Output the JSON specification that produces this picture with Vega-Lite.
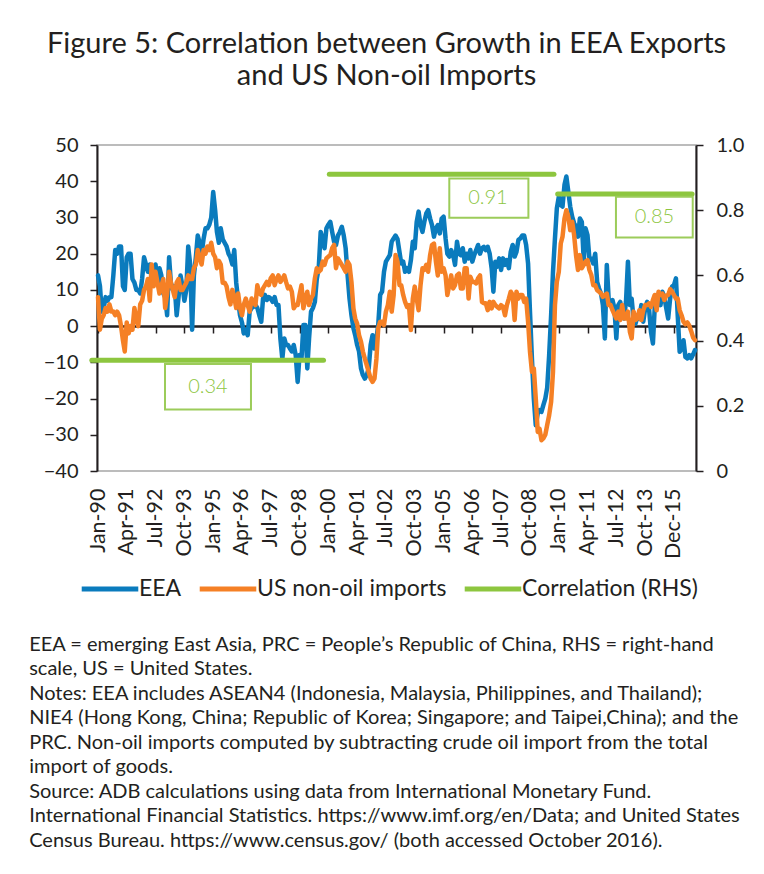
{
  "$schema": "https://vega.github.io/schema/vega-lite/v6.json",
  "background": "white",
  "padding": {"left": 28, "top": 30, "right": 5, "bottom": 5},
  "title": {
    "text": ["Figure 5: Correlation between Growth in EEA Exports", "and US Non-oil Imports"],
    "font": "Lato", "fontSize": 29, "fontWeight": "normal", "color": "#231f20",
    "anchor": "middle", "lineHeight": 32, "offset": 43
  },
  "vconcat": [
    {
      "width": 599,
      "height": 326,
      "title": {
        "text": [
          "EEA = emerging East Asia, PRC = People’s Republic of China, RHS = right-hand",
          "scale, US = United States.",
          "Notes: EEA includes ASEAN4 (Indonesia, Malaysia, Philippines, and Thailand);",
          "NIE4 (Hong Kong, China; Republic of Korea; Singapore; and Taipei,China); and the",
          "PRC. Non-oil imports computed by subtracting crude oil import from the total",
          "import of goods.",
          "Source: ADB calculations using data from International Monetary Fund.",
          "International Financial Statistics. https://www.imf.org/en/Data; and United States",
          "Census Bureau. https://www.census.gov/ (both accessed October 2016)."
        ],
        "orient": "bottom", "anchor": "start", "font": "Lato", "fontSize": 20,
        "fontWeight": "normal", "color": "#231f20", "lineHeight": 24.5, "offset": 76, "dx": -14
      },
      "layer": [
        {
          "data": {"values": [
{"d":"1990-01","EEA":14,"US non-oil imports":8},{"d":"1990-02","EEA":11,"US non-oil imports":-1},{"d":"1990-03","EEA":4,"US non-oil imports":2},{"d":"1990-04","EEA":5,"US non-oil imports":3},{"d":"1990-05","EEA":8,"US non-oil imports":5},{"d":"1990-06","EEA":7,"US non-oil imports":4},{"d":"1990-07","EEA":8,"US non-oil imports":6},{"d":"1990-08","EEA":8,"US non-oil imports":4},{"d":"1990-09","EEA":14,"US non-oil imports":4},{"d":"1990-10","EEA":21,"US non-oil imports":3},{"d":"1990-11","EEA":20,"US non-oil imports":4},{"d":"1990-12","EEA":22,"US non-oil imports":3},
{"d":"1991-01","EEA":22,"US non-oil imports":0},{"d":"1991-02","EEA":11,"US non-oil imports":-4},{"d":"1991-03","EEA":10,"US non-oil imports":-7},{"d":"1991-04","EEA":19,"US non-oil imports":1},{"d":"1991-05","EEA":20,"US non-oil imports":-2},{"d":"1991-06","EEA":20,"US non-oil imports":0},{"d":"1991-07","EEA":13,"US non-oil imports":-1},{"d":"1991-08","EEA":12,"US non-oil imports":5},{"d":"1991-09","EEA":10,"US non-oil imports":2},{"d":"1991-10","EEA":10,"US non-oil imports":0},{"d":"1991-11","EEA":9,"US non-oil imports":6},{"d":"1991-12","EEA":13,"US non-oil imports":7},
{"d":"1992-01","EEA":19,"US non-oil imports":10},{"d":"1992-02","EEA":17,"US non-oil imports":11},{"d":"1992-03","EEA":15,"US non-oil imports":13},{"d":"1992-04","EEA":17,"US non-oil imports":7},{"d":"1992-05","EEA":13,"US non-oil imports":17},{"d":"1992-06","EEA":15,"US non-oil imports":11},{"d":"1992-07","EEA":17,"US non-oil imports":15},{"d":"1992-08","EEA":12,"US non-oil imports":12},{"d":"1992-09","EEA":16,"US non-oil imports":9},{"d":"1992-10","EEA":14,"US non-oil imports":11},{"d":"1992-11","EEA":9,"US non-oil imports":13},{"d":"1992-12","EEA":8,"US non-oil imports":5},
{"d":"1993-01","EEA":3,"US non-oil imports":9},{"d":"1993-02","EEA":19,"US non-oil imports":15},{"d":"1993-03","EEA":12,"US non-oil imports":12},{"d":"1993-04","EEA":10,"US non-oil imports":10},{"d":"1993-05","EEA":11,"US non-oil imports":8},{"d":"1993-06","EEA":3,"US non-oil imports":12},{"d":"1993-07","EEA":8,"US non-oil imports":13},{"d":"1993-08","EEA":14,"US non-oil imports":10},{"d":"1993-09","EEA":11,"US non-oil imports":10},{"d":"1993-10","EEA":7,"US non-oil imports":11},{"d":"1993-11","EEA":10,"US non-oil imports":12},{"d":"1993-12","EEA":22,"US non-oil imports":14},
{"d":"1994-01","EEA":17,"US non-oil imports":13},{"d":"1994-02","EEA":-1,"US non-oil imports":13},{"d":"1994-03","EEA":14,"US non-oil imports":16},{"d":"1994-04","EEA":19,"US non-oil imports":17},{"d":"1994-05","EEA":25,"US non-oil imports":21},{"d":"1994-06","EEA":23,"US non-oil imports":19},{"d":"1994-07","EEA":20,"US non-oil imports":17},{"d":"1994-08","EEA":24,"US non-oil imports":21},{"d":"1994-09","EEA":27,"US non-oil imports":20},{"d":"1994-10","EEA":27,"US non-oil imports":22},{"d":"1994-11","EEA":28,"US non-oil imports":21},{"d":"1994-12","EEA":30,"US non-oil imports":23},
{"d":"1995-01","EEA":37,"US non-oil imports":20},{"d":"1995-02","EEA":32,"US non-oil imports":19},{"d":"1995-03","EEA":26,"US non-oil imports":16},{"d":"1995-04","EEA":23,"US non-oil imports":18},{"d":"1995-05","EEA":27,"US non-oil imports":17},{"d":"1995-06","EEA":24,"US non-oil imports":12},{"d":"1995-07","EEA":23,"US non-oil imports":12},{"d":"1995-08","EEA":22,"US non-oil imports":11},{"d":"1995-09","EEA":20,"US non-oil imports":8},{"d":"1995-10","EEA":19,"US non-oil imports":6},{"d":"1995-11","EEA":17,"US non-oil imports":10},{"d":"1995-12","EEA":21,"US non-oil imports":8},
{"d":"1996-01","EEA":12,"US non-oil imports":5},{"d":"1996-02","EEA":7,"US non-oil imports":9},{"d":"1996-03","EEA":3,"US non-oil imports":5},{"d":"1996-04","EEA":1,"US non-oil imports":3},{"d":"1996-05","EEA":-2,"US non-oil imports":6},{"d":"1996-06","EEA":-1,"US non-oil imports":7.6},{"d":"1996-07","EEA":-2.5,"US non-oil imports":5.8},{"d":"1996-08","EEA":4,"US non-oil imports":4},{"d":"1996-09","EEA":5,"US non-oil imports":7.6},{"d":"1996-10","EEA":5.3,"US non-oil imports":6.7},{"d":"1996-11","EEA":5.8,"US non-oil imports":5.8},{"d":"1996-12","EEA":5,"US non-oil imports":11.3},
{"d":"1997-01","EEA":3,"US non-oil imports":9},{"d":"1997-02","EEA":1.2,"US non-oil imports":8.6},{"d":"1997-03","EEA":7.6,"US non-oil imports":10.4},{"d":"1997-04","EEA":8.6,"US non-oil imports":11.3},{"d":"1997-05","EEA":7.2,"US non-oil imports":12.2},{"d":"1997-06","EEA":8,"US non-oil imports":11.3},{"d":"1997-07","EEA":7.6,"US non-oil imports":13.2},{"d":"1997-08","EEA":6.7,"US non-oil imports":14},{"d":"1997-09","EEA":8,"US non-oil imports":11.3},{"d":"1997-10","EEA":5.8,"US non-oil imports":13},{"d":"1997-11","EEA":5.8,"US non-oil imports":14},{"d":"1997-12","EEA":-3.4,"US non-oil imports":12.2},
{"d":"1998-01","EEA":-9,"US non-oil imports":13},{"d":"1998-02","EEA":-3.4,"US non-oil imports":14},{"d":"1998-03","EEA":-5.2,"US non-oil imports":12.2},{"d":"1998-04","EEA":-5.2,"US non-oil imports":10.4},{"d":"1998-05","EEA":-6.2,"US non-oil imports":10.9},{"d":"1998-06","EEA":-7,"US non-oil imports":9.5},{"d":"1998-07","EEA":-5.2,"US non-oil imports":4.9},{"d":"1998-08","EEA":-8,"US non-oil imports":5.8},{"d":"1998-09","EEA":-15.4,"US non-oil imports":5.8},{"d":"1998-10","EEA":-8,"US non-oil imports":8.6},{"d":"1998-11","EEA":-9,"US non-oil imports":11.3},{"d":"1998-12","EEA":0.3,"US non-oil imports":4.9},
{"d":"1999-01","EEA":0.3,"US non-oil imports":7.6},{"d":"1999-02","EEA":-11.7,"US non-oil imports":9.5},{"d":"1999-03","EEA":-3.4,"US non-oil imports":5.8},{"d":"1999-04","EEA":4,"US non-oil imports":7.6},{"d":"1999-05","EEA":5,"US non-oil imports":8.6},{"d":"1999-06","EEA":6.7,"US non-oil imports":13.2},{"d":"1999-07","EEA":13,"US non-oil imports":16},{"d":"1999-08","EEA":16,"US non-oil imports":15},{"d":"1999-09","EEA":26,"US non-oil imports":15.5},{"d":"1999-10","EEA":24,"US non-oil imports":17.8},{"d":"1999-11","EEA":21.5,"US non-oil imports":16.9},{"d":"1999-12","EEA":27,"US non-oil imports":18.7},
{"d":"2000-01","EEA":28,"US non-oil imports":19.2},{"d":"2000-02","EEA":28.8,"US non-oil imports":19.6},{"d":"2000-03","EEA":26,"US non-oil imports":21.5},{"d":"2000-04","EEA":23.3,"US non-oil imports":22.4},{"d":"2000-05","EEA":22.4,"US non-oil imports":16},{"d":"2000-06","EEA":25,"US non-oil imports":18.7},{"d":"2000-07","EEA":26,"US non-oil imports":17.8},{"d":"2000-08","EEA":27.4,"US non-oil imports":16.9},{"d":"2000-09","EEA":25,"US non-oil imports":16},{"d":"2000-10","EEA":21.5,"US non-oil imports":15},{"d":"2000-11","EEA":14,"US non-oil imports":17.8},{"d":"2000-12","EEA":7.6,"US non-oil imports":16.9},
{"d":"2001-01","EEA":3,"US non-oil imports":12.2},{"d":"2001-02","EEA":-0.6,"US non-oil imports":4.9},{"d":"2001-03","EEA":-2.5,"US non-oil imports":2.1},{"d":"2001-04","EEA":-5.2,"US non-oil imports":0.7},{"d":"2001-05","EEA":-7,"US non-oil imports":-2.5},{"d":"2001-06","EEA":-11.7,"US non-oil imports":-4.3},{"d":"2001-07","EEA":-13.5,"US non-oil imports":-7},{"d":"2001-08","EEA":-14.5,"US non-oil imports":-9},{"d":"2001-09","EEA":-13.5,"US non-oil imports":-10.8},{"d":"2001-10","EEA":-11.7,"US non-oil imports":-12.6},{"d":"2001-11","EEA":-5.2,"US non-oil imports":-14.5},{"d":"2001-12","EEA":-2.5,"US non-oil imports":-15.4},
{"d":"2002-01","EEA":-6.2,"US non-oil imports":-14.5},{"d":"2002-02","EEA":-3.4,"US non-oil imports":-9},{"d":"2002-03","EEA":0.3,"US non-oil imports":-0.6},{"d":"2002-04","EEA":8.6,"US non-oil imports":1.2},{"d":"2002-05","EEA":9.5,"US non-oil imports":1.2},{"d":"2002-06","EEA":15,"US non-oil imports":0.3},{"d":"2002-07","EEA":17.8,"US non-oil imports":4},{"d":"2002-08","EEA":18.7,"US non-oil imports":5.8},{"d":"2002-09","EEA":19.6,"US non-oil imports":9.5},{"d":"2002-10","EEA":23.3,"US non-oil imports":4},{"d":"2002-11","EEA":24.2,"US non-oil imports":8.6},{"d":"2002-12","EEA":25,"US non-oil imports":19.6},
{"d":"2003-01","EEA":24,"US non-oil imports":17.8},{"d":"2003-02","EEA":20.5,"US non-oil imports":11.3},{"d":"2003-03","EEA":17.3,"US non-oil imports":11.3},{"d":"2003-04","EEA":17.8,"US non-oil imports":8.6},{"d":"2003-05","EEA":15,"US non-oil imports":6.7},{"d":"2003-06","EEA":16,"US non-oil imports":5.3},{"d":"2003-07","EEA":15,"US non-oil imports":5.8},{"d":"2003-08","EEA":18.2,"US non-oil imports":-1.1},{"d":"2003-09","EEA":23.3,"US non-oil imports":7.6},{"d":"2003-10","EEA":21.5,"US non-oil imports":10.9},{"d":"2003-11","EEA":28.8,"US non-oil imports":7.6},{"d":"2003-12","EEA":31.6,"US non-oil imports":4.4},
{"d":"2004-01","EEA":27.9,"US non-oil imports":11.3},{"d":"2004-02","EEA":26,"US non-oil imports":16},{"d":"2004-03","EEA":28.8,"US non-oil imports":15.5},{"d":"2004-04","EEA":31.1,"US non-oil imports":16.9},{"d":"2004-05","EEA":32,"US non-oil imports":15},{"d":"2004-06","EEA":29.7,"US non-oil imports":19.6},{"d":"2004-07","EEA":27.9,"US non-oil imports":22.4},{"d":"2004-08","EEA":24.7,"US non-oil imports":22.8},{"d":"2004-09","EEA":27,"US non-oil imports":17.8},{"d":"2004-10","EEA":27.9,"US non-oil imports":14},{"d":"2004-11","EEA":25.6,"US non-oil imports":21.5},{"d":"2004-12","EEA":29.7,"US non-oil imports":15},
{"d":"2005-01","EEA":30.2,"US non-oil imports":16},{"d":"2005-02","EEA":24.2,"US non-oil imports":14},{"d":"2005-03","EEA":20,"US non-oil imports":8.6},{"d":"2005-04","EEA":19.2,"US non-oil imports":11.3},{"d":"2005-05","EEA":21,"US non-oil imports":14},{"d":"2005-06","EEA":19.6,"US non-oil imports":10.4},{"d":"2005-07","EEA":16.9,"US non-oil imports":11.3},{"d":"2005-08","EEA":23.3,"US non-oil imports":14},{"d":"2005-09","EEA":20,"US non-oil imports":14.5},{"d":"2005-10","EEA":19.6,"US non-oil imports":10.4},{"d":"2005-11","EEA":21.5,"US non-oil imports":10.4},{"d":"2005-12","EEA":17.8,"US non-oil imports":16},
{"d":"2006-01","EEA":20,"US non-oil imports":16},{"d":"2006-02","EEA":18.7,"US non-oil imports":7.6},{"d":"2006-03","EEA":21,"US non-oil imports":13.6},{"d":"2006-04","EEA":17.8,"US non-oil imports":12.2},{"d":"2006-05","EEA":19.6,"US non-oil imports":12.2},{"d":"2006-06","EEA":21,"US non-oil imports":11.8},{"d":"2006-07","EEA":22.4,"US non-oil imports":13.2},{"d":"2006-08","EEA":20,"US non-oil imports":14},{"d":"2006-09","EEA":21.5,"US non-oil imports":6.7},{"d":"2006-10","EEA":21.9,"US non-oil imports":6.3},{"d":"2006-11","EEA":21,"US non-oil imports":6.3},{"d":"2006-12","EEA":21.9,"US non-oil imports":4.4},
{"d":"2007-01","EEA":20,"US non-oil imports":6.7},{"d":"2007-02","EEA":16,"US non-oil imports":4.9},{"d":"2007-03","EEA":9.5,"US non-oil imports":6.7},{"d":"2007-04","EEA":17.8,"US non-oil imports":5.8},{"d":"2007-05","EEA":16.4,"US non-oil imports":5.3},{"d":"2007-06","EEA":18.7,"US non-oil imports":4.9},{"d":"2007-07","EEA":15.5,"US non-oil imports":5.8},{"d":"2007-08","EEA":18.7,"US non-oil imports":5.3},{"d":"2007-09","EEA":16.9,"US non-oil imports":3},{"d":"2007-10","EEA":18.2,"US non-oil imports":5.8},{"d":"2007-11","EEA":16,"US non-oil imports":7.6},{"d":"2007-12","EEA":20.5,"US non-oil imports":9.5},
{"d":"2008-01","EEA":22.4,"US non-oil imports":8.6},{"d":"2008-02","EEA":19.2,"US non-oil imports":1.7},{"d":"2008-03","EEA":20.5,"US non-oil imports":9.5},{"d":"2008-04","EEA":23.8,"US non-oil imports":7.6},{"d":"2008-05","EEA":24.2,"US non-oil imports":8.6},{"d":"2008-06","EEA":25,"US non-oil imports":8.6},{"d":"2008-07","EEA":25,"US non-oil imports":6.7},{"d":"2008-08","EEA":22.4,"US non-oil imports":7.6},{"d":"2008-09","EEA":17.3,"US non-oil imports":1.2},{"d":"2008-10","EEA":4,"US non-oil imports":-7},{"d":"2008-11","EEA":-9,"US non-oil imports":-12.6},{"d":"2008-12","EEA":-20,"US non-oil imports":-11.7},
{"d":"2009-01","EEA":-27.4,"US non-oil imports":-20},{"d":"2009-02","EEA":-24.1,"US non-oil imports":-29.2},{"d":"2009-03","EEA":-23.2,"US non-oil imports":-28.3},{"d":"2009-04","EEA":-23.7,"US non-oil imports":-31.5},{"d":"2009-05","EEA":-21.8,"US non-oil imports":-31},{"d":"2009-06","EEA":-20,"US non-oil imports":-30},{"d":"2009-07","EEA":-17,"US non-oil imports":-27.3},{"d":"2009-08","EEA":-8,"US non-oil imports":-24.6},{"d":"2009-09","EEA":3,"US non-oil imports":-20.9},{"d":"2009-10","EEA":15,"US non-oil imports":-12.6},{"d":"2009-11","EEA":24.2,"US non-oil imports":5.8},{"d":"2009-12","EEA":32.5,"US non-oil imports":12.2},
{"d":"2010-01","EEA":35.7,"US non-oil imports":15},{"d":"2010-02","EEA":33.4,"US non-oil imports":22.8},{"d":"2010-03","EEA":33,"US non-oil imports":24.7},{"d":"2010-04","EEA":39,"US non-oil imports":29.7},{"d":"2010-05","EEA":41.3,"US non-oil imports":32},{"d":"2010-06","EEA":37.1,"US non-oil imports":30.2},{"d":"2010-07","EEA":33,"US non-oil imports":26.5},{"d":"2010-08","EEA":30.2,"US non-oil imports":28.8},{"d":"2010-09","EEA":28.4,"US non-oil imports":25.1},{"d":"2010-10","EEA":27.4,"US non-oil imports":19.6},{"d":"2010-11","EEA":24.7,"US non-oil imports":15.5},{"d":"2010-12","EEA":29.7,"US non-oil imports":19.6},
{"d":"2011-01","EEA":28.8,"US non-oil imports":16},{"d":"2011-02","EEA":17.8,"US non-oil imports":16.9},{"d":"2011-03","EEA":27,"US non-oil imports":17.8},{"d":"2011-04","EEA":25.1,"US non-oil imports":18.2},{"d":"2011-05","EEA":18.7,"US non-oil imports":15.5},{"d":"2011-06","EEA":18.7,"US non-oil imports":14.1},{"d":"2011-07","EEA":17.3,"US non-oil imports":11.3},{"d":"2011-08","EEA":20,"US non-oil imports":11.3},{"d":"2011-09","EEA":12.2,"US non-oil imports":9.9},{"d":"2011-10","EEA":10.4,"US non-oil imports":9.5},{"d":"2011-11","EEA":9,"US non-oil imports":9},{"d":"2011-12","EEA":5.8,"US non-oil imports":8.1},
{"d":"2012-01","EEA":-3.4,"US non-oil imports":8.6},{"d":"2012-02","EEA":16.9,"US non-oil imports":9},{"d":"2012-03","EEA":7.6,"US non-oil imports":5.8},{"d":"2012-04","EEA":5.8,"US non-oil imports":5.8},{"d":"2012-05","EEA":7.2,"US non-oil imports":4.4},{"d":"2012-06","EEA":4.9,"US non-oil imports":3.2},{"d":"2012-07","EEA":-3.4,"US non-oil imports":2.1},{"d":"2012-08","EEA":5.8,"US non-oil imports":4},{"d":"2012-09","EEA":6.7,"US non-oil imports":1.7},{"d":"2012-10","EEA":3.5,"US non-oil imports":5.8},{"d":"2012-11","EEA":2.1,"US non-oil imports":2.1},{"d":"2012-12","EEA":6.7,"US non-oil imports":2.1},
{"d":"2013-01","EEA":17.8,"US non-oil imports":4},{"d":"2013-02","EEA":5.8,"US non-oil imports":-1.6},{"d":"2013-03","EEA":7.6,"US non-oil imports":-3.4},{"d":"2013-04","EEA":1.7,"US non-oil imports":4},{"d":"2013-05","EEA":0.7,"US non-oil imports":1.7},{"d":"2013-06","EEA":2.6,"US non-oil imports":2.1},{"d":"2013-07","EEA":2.1,"US non-oil imports":4.4},{"d":"2013-08","EEA":5.8,"US non-oil imports":1.7},{"d":"2013-09","EEA":1.2,"US non-oil imports":4.4},{"d":"2013-10","EEA":4.9,"US non-oil imports":5.8},{"d":"2013-11","EEA":6.7,"US non-oil imports":5.8},{"d":"2013-12","EEA":4.9,"US non-oil imports":6.3},
{"d":"2014-01","EEA":-1.6,"US non-oil imports":5.3},{"d":"2014-02","EEA":-4.8,"US non-oil imports":7.2},{"d":"2014-03","EEA":4.9,"US non-oil imports":8.6},{"d":"2014-04","EEA":8.6,"US non-oil imports":4.4},{"d":"2014-05","EEA":8.6,"US non-oil imports":9.5},{"d":"2014-06","EEA":5.8,"US non-oil imports":8.6},{"d":"2014-07","EEA":9.5,"US non-oil imports":9},{"d":"2014-08","EEA":8.1,"US non-oil imports":7.2},{"d":"2014-09","EEA":4.9,"US non-oil imports":8.4},{"d":"2014-10","EEA":2.1,"US non-oil imports":8.6},{"d":"2014-11","EEA":7.6,"US non-oil imports":10.2},{"d":"2014-12","EEA":10.9,"US non-oil imports":9.5},
{"d":"2015-01","EEA":11.3,"US non-oil imports":8.6},{"d":"2015-02","EEA":13.2,"US non-oil imports":7.6},{"d":"2015-03","EEA":3,"US non-oil imports":7.6},{"d":"2015-04","EEA":-7.1,"US non-oil imports":4.4},{"d":"2015-05","EEA":-6.2,"US non-oil imports":3},{"d":"2015-06","EEA":-3.9,"US non-oil imports":1.2},{"d":"2015-07","EEA":-8.5,"US non-oil imports":0.5},{"d":"2015-08","EEA":-8.9,"US non-oil imports":1},{"d":"2015-09","EEA":-8,"US non-oil imports":0.1},{"d":"2015-10","EEA":-8.9,"US non-oil imports":-1.4},{"d":"2015-11","EEA":-7.8,"US non-oil imports":-3.2},{"d":"2015-12","EEA":-6.6,"US non-oil imports":-3.9}
          ]},
          "transform": [{"fold": ["EEA", "US non-oil imports"], "as": ["series", "value"]}],
          "mark": {"type": "line", "strokeWidth": 4.5, "strokeJoin": "round", "strokeCap": "round"},
          "encoding": {
            "x": {
              "field": "d", "type": "temporal",
              "scale": {"type": "utc", "domain": [{"year": 1989, "month": 12, "date": 16, "utc": true}, {"year": 2015, "month": 12, "date": 16, "utc": true}]},
              "axis": {
                "title": null, "orient": "bottom", "offset": -145, "labelPadding": 155, "tickSize": 7, "domainWidth": 2,
                "labelAngle": 270, "labelAlign": "right", "labelBaseline": "middle",
                "labelFontSize": 21.5, "labelOverlap": false, "labelBound": false, "labelFlush": false,
                "values": [
                  {"year": 1990, "month": 1, "utc": true}, {"year": 1992, "month": 7, "utc": true},
                  {"year": 1995, "month": 1, "utc": true}, {"year": 1997, "month": 7, "utc": true},
                  {"year": 2000, "month": 1, "utc": true}, {"year": 2002, "month": 7, "utc": true},
                  {"year": 2005, "month": 1, "utc": true}, {"year": 2007, "month": 7, "utc": true},
                  {"year": 2010, "month": 1, "utc": true}, {"year": 2012, "month": 7, "utc": true},
                  {"year": 2015, "month": 1, "utc": true}
                ],
                "labelExpr": "utcyear(datum.value) == 2015 ? 'Dec-15' : utcFormat(datum.value, '%b-%y')"
              }
            },
            "y": {
              "field": "value", "type": "quantitative",
              "scale": {"domain": [-40, 50], "nice": false, "zero": false},
              "axis": {"title": null, "orient": "left", "values": [-40, -30, -20, -10, 0, 10, 20, 30, 40, 50], "tickSize": 7, "labelPadding": 12, "domainWidth": 2, "labelFontSize": 20}
            },
            "color": {
              "field": "series", "type": "nominal",
              "scale": {"domain": ["EEA", "US non-oil imports", "Correlation (RHS)"], "range": ["#0a7bbd", "#f58025", "#8dc63f"]},
              "legend": {
                "title": null, "orient": "none", "direction": "horizontal", "legendX": -18, "legendY": 413,
                "symbolType": "stroke", "symbolSize": 3200, "symbolStrokeWidth": 5,
                "labelFont": "Lato", "labelFontSize": 23, "labelColor": "#231f20", "labelOffset": -2,
                "columnPadding": 7, "labelLimit": 0
              }
            }
          }
        },
        {
          "layer": [
            {
              "data": {"values": [
                {"series": "Correlation (RHS)", "start": "1989-09-25", "end": "1999-10-16", "corr": 0.34},
                {"series": "Correlation (RHS)", "start": "2000-01-16", "end": "2009-10-16", "corr": 0.91},
                {"series": "Correlation (RHS)", "start": "2009-12-14", "end": "2015-10-15", "corr": 0.85}
              ]},
              "mark": {"type": "rule", "strokeWidth": 5, "strokeCap": "round", "clip": false},
              "encoding": {
                "x": {
                  "field": "start", "type": "temporal",
                  "axis": {
                    "title": null, "orient": "bottom", "offset": -145, "labelPadding": 155, "tickSize": 7, "domainWidth": 2,
                    "labelAngle": 270, "labelAlign": "right", "labelBaseline": "middle",
                    "labelFontSize": 21.5, "labelOverlap": false, "labelBound": false, "labelFlush": false,
                    "values": [
                      {"year": 1991, "month": 4, "utc": true}, {"year": 1993, "month": 10, "utc": true},
                      {"year": 1996, "month": 4, "utc": true}, {"year": 1998, "month": 10, "utc": true},
                      {"year": 2001, "month": 4, "utc": true}, {"year": 2003, "month": 10, "utc": true},
                      {"year": 2006, "month": 4, "utc": true}, {"year": 2008, "month": 10, "utc": true},
                      {"year": 2011, "month": 4, "utc": true}, {"year": 2013, "month": 10, "utc": true}
                    ],
                    "labelExpr": "utcFormat(datum.value, '%b-%y')"
                  }
                },
                "x2": {"field": "end"},
                "y": {
                  "field": "corr", "type": "quantitative",
                  "scale": {"domain": [0, 1], "nice": false},
                  "axis": {
                    "title": null, "orient": "right", "values": [0, 0.1, 0.2, 0.3, 0.4, 0.5, 0.6, 0.7, 0.8, 0.9, 1],
                    "tickSize": 7, "labelPadding": 13, "domainWidth": 2, "labelFontSize": 20,
                    "labelExpr": "datum.value == 0 ? '0' : format(datum.value, '.1f')"
                  }
                },
                "color": {"field": "series", "type": "nominal"}
              }
            },
            {
              "data": {"name": "boxes", "values": [
                {"x1": "1992-11-28", "x2": "1996-08-22", "y1": 0.328, "y2": 0.189, "xm": "1994-10-10", "ym": 0.258, "label": "0.34"},
                {"x1": "2005-04-01", "x2": "2008-09-06", "y1": 0.897, "y2": 0.777, "xm": "2006-12-04", "ym": 0.837, "label": "0.91"},
                {"x1": "2012-06-25", "x2": "2015-10-25", "y1": 0.841, "y2": 0.716, "xm": "2014-02-25", "ym": 0.778, "label": "0.85"}
              ]},
              "layer": [
                {
                  "mark": {"type": "rect", "fill": "white", "stroke": "#9ccc5a", "strokeWidth": 2},
                  "encoding": {
                    "x": {"field": "x1", "type": "temporal"},
                    "x2": {"field": "x2"},
                    "y": {"field": "y1", "type": "quantitative"},
                    "y2": {"field": "y2"}
                  }
                },
                {
                  "mark": {"type": "text", "font": "Lato", "fontSize": 20, "fontWeight": 300, "color": "#8dc63f", "align": "center", "baseline": "middle"},
                  "encoding": {
                    "x": {"field": "xm", "type": "temporal"},
                    "y": {"field": "ym", "type": "quantitative"},
                    "text": {"field": "label"}
                  }
                }
              ]
            }
          ]
        }
      ],
      "resolve": {"scale": {"y": "independent"}, "axis": {"x": "independent"}}
    }
  ],
  "config": {
    "font": "Lato",
    "view": {"stroke": "#a6a6a6", "strokeWidth": 1.5},
    "axis": {
      "grid": false, "labelFont": "Lato", "labelFontSize": 17, "labelColor": "#231f20",
      "domainColor": "#231f20", "tickColor": "#231f20", "tickWidth": 1.5, "labelOverlap": false
    },
    "axisX": {"labelOverlap": false, "labelFontSize": 21.5}
  }
}
